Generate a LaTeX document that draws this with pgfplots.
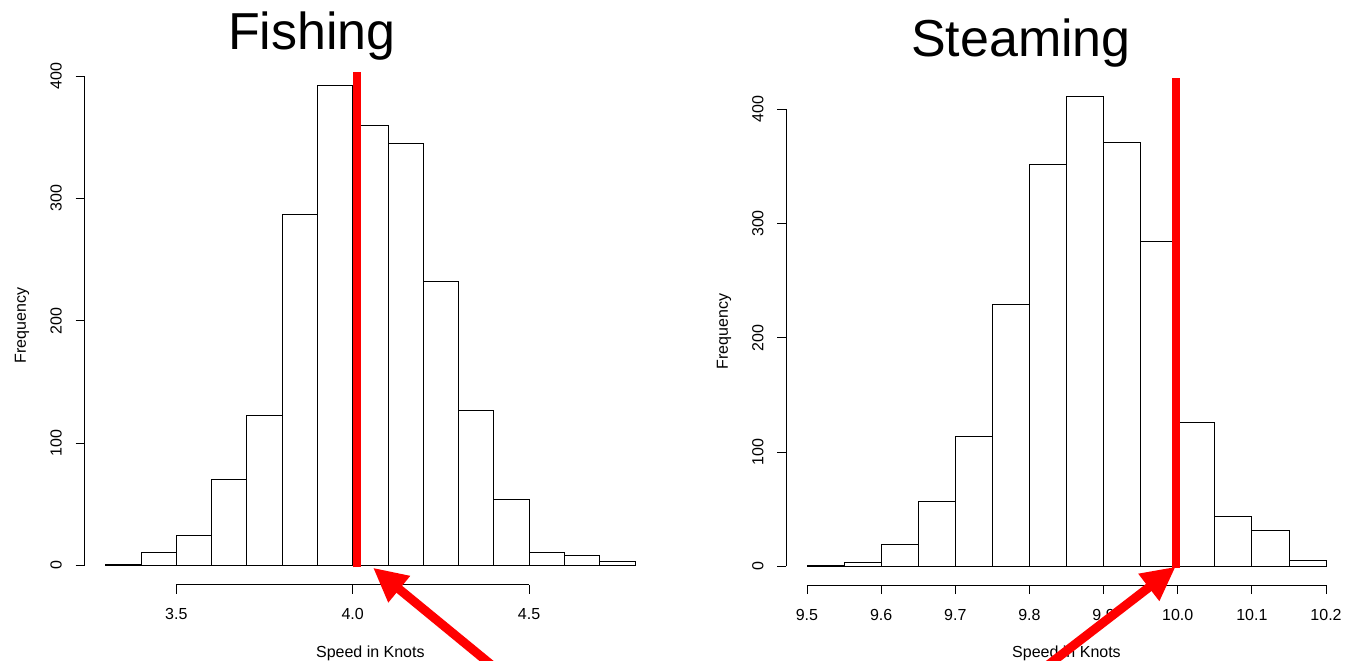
\documentclass[border=0pt]{standalone}
\usepackage{fontspec}
\setmainfont{Liberation Sans}
\usepackage{pgfplots}
\pgfplotsset{compat=1.18}
\usetikzlibrary{arrows.meta}

\pgfplotsset{rhist/.style={
  scale only axis,
  axis x line*=bottom, axis y line*=left,
  axis line style={draw=none},
  tick align=outside,
  major tick length=9bp,
  every tick/.style={black, line width=0.8bp},
  tick label style={font=\fontsize{16bp}{19bp}\selectfont, inner sep=0pt},
  label style={font=\fontsize{16bp}{19bp}\selectfont},
  /pgf/number format/assume math mode=true,
  xticklabel style={anchor=base, /pgf/number format/.cd, fixed, fixed zerofill, precision=1},
  xticklabel shift=26bp,
  yticklabel style={rotate=90, anchor=south},
  yticklabel shift=13.6bp,
  ytick={0,100,200,300,400},
  clip=false,
}}

\begin{document}
\begin{tikzpicture}
\useasboundingbox (0bp,0bp) rectangle (1347bp,661bp);

% ---------------- Fishing ----------------
\begin{axis}[rhist, at={(84.6bp,76.3bp)}, anchor=south west,
  width=571.5bp, height=518.1bp,
  xmin=3.24, xmax=4.86, ymin=-15.68, ymax=407.68,
  xtick={3.5,4.0,4.5},
  xlabel={Speed in Knots}, ylabel={Frequency},
  xlabel style={at={(rel axis cs:0.5,-0.1399)}, anchor=base},
  ylabel style={at={(rel axis cs:-0.1095,0.5)}, anchor=center}]
\addplot[ybar interval, draw=black, fill=white, line width=0.8bp] coordinates {
 (3.3,1) (3.4,11) (3.5,25) (3.6,70) (3.7,123) (3.8,287) (3.9,392)
 (4.0,360) (4.1,345) (4.2,232) (4.3,127) (4.4,54) (4.5,11) (4.6,8) (4.7,3) (4.8,0)};
\addplot[red, line width=8bp] coordinates {(4.011,-1.6) (4.011,403)};
\draw[line width=0.8bp] (axis cs:3.5,-15.68) -- (axis cs:4.5,-15.68);
\draw[line width=0.8bp] (axis cs:3.24,0) -- (axis cs:3.24,400);
\end{axis}

% ---------------- Steaming ----------------
\begin{axis}[rhist, at={(786.2bp,75.9bp)}, anchor=south west,
  width=560.6bp, height=507.2bp,
  xmin=9.472, xmax=10.228, ymin=-16.44, ymax=427.44,
  xtick={9.5,9.6,9.7,9.8,9.9,10.0,10.1,10.2},
  xlabel={Speed in Knots}, ylabel={Frequency},
  xlabel style={at={(rel axis cs:0.5,-0.1418)}, anchor=base},
  ylabel style={at={(rel axis cs:-0.111,0.5)}, anchor=center}]
\addplot[ybar interval, draw=black, fill=white, line width=0.8bp] coordinates {
 (9.50,1) (9.55,3) (9.60,19) (9.65,57) (9.70,114) (9.75,229) (9.80,352)
 (9.85,411) (9.90,371) (9.95,284) (10.00,126) (10.05,44) (10.10,31) (10.15,5) (10.20,0)};
\addplot[red, line width=8bp] coordinates {(9.997,-1.5) (9.997,427)};
\draw[line width=0.8bp] (axis cs:9.5,-16.44) -- (axis cs:10.2,-16.44);
\draw[line width=0.8bp] (axis cs:9.472,0) -- (axis cs:9.472,400);
\end{axis}

% titles
\node[font=\fontsize{52bp}{60bp}\selectfont, anchor=base] at (312bp,611bp) {Fishing};
\node[font=\fontsize{52bp}{60bp}\selectfont, anchor=base] at (1021bp,604bp) {Steaming};

% arrows
\draw[red, line width=9bp, -{Triangle[length=34bp, width=32bp]}] (500bp,-11bp) -- (373bp,93.3bp);
\draw[red, line width=9bp, -{Triangle[length=34bp, width=32bp]}] (1039bp,-11bp) -- (1175.7bp,94.3bp);
\end{tikzpicture}
\end{document}
